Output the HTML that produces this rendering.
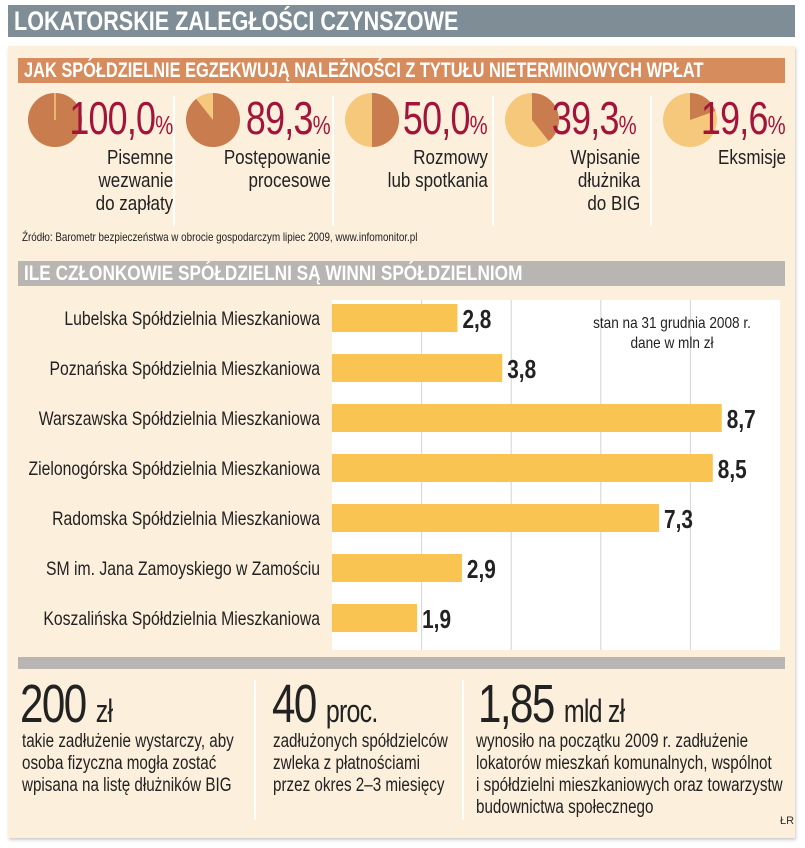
<!DOCTYPE html>
<html><head><meta charset="utf-8">
<style>
body{margin:0;width:805px;height:848px;background:#fff;font-family:"Liberation Sans",sans-serif;position:relative;overflow:hidden}
.abs{position:absolute}
.cl{display:inline-block;transform-origin:left center;white-space:nowrap}
.cr{display:inline-block;transform-origin:right center;white-space:nowrap}
#title{left:8px;top:5px;width:787px;height:32px;background:#7f8d96;color:#fff;font-weight:bold;font-size:27px;line-height:32px;padding-left:6px;box-sizing:border-box;overflow:hidden}
#panel{left:8px;top:46px;width:787px;height:792px;background:#fcefdc;box-shadow:1px 2px 3px #ccc}
#sub1,#sub2{left:18px;width:767px;height:25px;color:#fff;font-weight:bold;font-size:21px;line-height:25px;padding-left:6px;box-sizing:border-box;overflow:hidden}
#sub1{top:58px;background:#d78c5d}
#sub2{top:261px;background:#b8b5b2}
.pct{color:#a3143a;font-size:46px;line-height:44px;text-align:right;letter-spacing:-1px}
.pct small{font-size:26px;letter-spacing:0}
.lab{font-size:20px;line-height:23px;text-align:right;color:#222}
.sep{width:2px;background:#fff}
.big{font-size:54px;line-height:48px;color:#222;letter-spacing:-2px}
.big small{font-size:32px;letter-spacing:-1px}
.txt{font-size:19px;line-height:22px;color:#222}
</style></head><body>
<div id="title" class="abs"><span class="cl" style="transform:scaleX(0.8)">LOKATORSKIE ZALEGŁOŚCI CZYNSZOWE</span></div>
<div id="panel" class="abs"></div>
<div id="sub1" class="abs"><span class="cl" style="transform:scaleX(0.78)">JAK SPÓŁDZIELNIE EGZEKWUJĄ NALEŻNOŚCI Z TYTUŁU NIETERMINOWYCH WPŁAT</span></div>
<div id="pies"></div>
<div class="abs" style="left:22px;top:230px;font-size:12px;color:#222"><span class="cl" style="transform:scaleX(0.82)">Źródło: Barometr bezpieczeństwa w obrocie gospodarczym lipiec 2009, www.infomonitor.pl</span></div>
<div id="sub2" class="abs"><span class="cl" style="transform:scaleX(0.82)">ILE CZŁONKOWIE SPÓŁDZIELNI SĄ WINNI SPÓŁDZIELNIOM</span></div>
<svg id="chart" class="abs" style="left:0;top:290px" width="805" height="360"></svg>
<div class="abs" style="left:18px;top:657px;width:767px;height:12px;background:#b8b5b2"></div>
<div class="abs sep" style="left:254px;top:680px;height:140px"></div>
<div class="abs sep" style="left:462px;top:680px;height:140px"></div>
<div class="abs big" style="left:20px;top:680px"><span class="cl" style="transform:scaleX(0.78)">200 <small>zł</small></span></div>
<div class="abs txt" style="left:22px;top:731px"><span class="cl" style="transform:scaleX(0.8)">takie zadłużenie wystarczy, aby<br>osoba fizyczna mogła zostać<br>wpisana na listę dłużników BIG</span></div>
<div class="abs big" style="left:272px;top:680px"><span class="cl" style="transform:scaleX(0.78)">40 <small>proc.</small></span></div>
<div class="abs txt" style="left:273px;top:731px"><span class="cl" style="transform:scaleX(0.8)">zadłużonych spółdzielców<br>zwleka z płatnościami<br>przez okres 2–3 miesięcy</span></div>
<div class="abs big" style="left:478px;top:680px"><span class="cl" style="transform:scaleX(0.78)">1,85 <small>mld zł</small></span></div>
<div class="abs txt" style="left:476px;top:731px"><span class="cl" style="transform:scaleX(0.8)">wynosiło na początku 2009 r. zadłużenie<br>lokatorów mieszkań komunalnych, wspólnot<br>i spółdzielni mieszkaniowych oraz towarzystw<br>budownictwa społecznego</span></div>
<div class="abs" style="left:780px;top:815px;font-size:11px;color:#333">ŁR</div>
<script>
const pieValues=[100.0,89.3,50.0,39.3,19.6];
const pieLabels=["Pisemne<br>wezwanie<br>do zapłaty","Postępowanie<br>procesowe","Rozmowy<br>lub spotkania","Wpisanie<br>dłużnika<br>do BIG","Eksmisje"];
const categories=["Lubelska Spółdzielnia Mieszkaniowa","Poznańska Spółdzielnia Mieszkaniowa","Warszawska Spółdzielnia Mieszkaniowa","Zielonogórska Spółdzielnia Mieszkaniowa","Radomska Spółdzielnia Mieszkaniowa","SM im. Jana Zamoyskiego w Zamościu","Koszalińska Spółdzielnia Mieszkaniowa"];
const values=[2.8,3.8,8.7,8.5,7.3,2.9,1.9];
const gridTicks=[0,2,4,6,8,10];

const pies=document.getElementById('pies');
const colX=[20,178,337,497,655];
const colR=[173,331,488,640,786];
const pctR=[173,331,488,637,786];
pieValues.forEach((v,i)=>{
  const x0=colX[i];
  const cx=x0+35,cy=120,r=27;
  const a=v/100*2*Math.PI;
  let svg='<svg class="abs" style="left:'+(cx-r-1)+'px;top:'+(cy-r-1)+'px" width="'+(2*r+2)+'" height="'+(2*r+2)+'">';
  const c=r+1;
  svg+='<circle cx="'+c+'" cy="'+c+'" r="'+r+'" fill="#f6c87c"/>';
  if(v>=99.99){svg+='<circle cx="'+c+'" cy="'+c+'" r="'+r+'" fill="#c97c4e"/><line x1="'+c+'" y1="'+(c-r)+'" x2="'+c+'" y2="'+c+'" stroke="#f6c87c" stroke-width="1.5"/>';}
  else{const ex=c+r*Math.sin(a),ey=c-r*Math.cos(a);const large=v>50?1:0;
    svg+='<path d="M'+c+','+c+' L'+c+','+(c-r)+' A'+r+','+r+' 0 '+large+' 1 '+ex+','+ey+' Z" fill="#c97c4e"/>';}
  svg+='</svg>';
  const w=document.createElement('div');w.innerHTML=svg;const s=w.firstChild;
  
  
  pies.appendChild(s);
  const p=document.createElement('div');p.className='abs pct';
  p.style.left=(pctR[i]-140)+'px';p.style.top='96px';p.style.width='140px';
  p.innerHTML='<span class="cr" style="transform:scaleX(0.78)">'+v.toFixed(1).replace('.',',')+'<small>%</small></span>';
  
  
  pies.appendChild(p);
  const l=document.createElement('div');l.className='abs lab';
  l.style.left=(colR[i]-150)+'px';l.style.top='147px';l.style.width='150px';
  l.innerHTML='<span class="cr" style="transform:scaleX(0.85)">'+pieLabels[i]+'</span>';
  
  
  pies.appendChild(l);
  if(i>0){const sp=document.createElement('div');sp.className='abs sep';sp.style.left=(x0-5)+'px';sp.style.top='96px';sp.style.height='130px';
    
    
    pies.appendChild(sp);}
});

const NS='http://www.w3.org/2000/svg';
const svg=document.getElementById('chart');
const x0=332,pxPer=44.8,top0=10,bandH=50;
const xs=v=>x0+v*pxPer;
const ys=i=>top0+i*bandH;
function el(t,a){const e=document.createElementNS(NS,t);for(const k in a)e.setAttribute(k,a[k]);svg.appendChild(e);return e;}
const bg=el('rect',{x:xs(0),y:top0,width:xs(10)-xs(0),height:bandH*7,fill:'#fff'});


gridTicks.slice(1,-1).forEach(t=>{const g=el('line',{x1:xs(t),x2:xs(t),y1:top0,y2:top0+bandH*7,stroke:'#d6d3cf','stroke-width':1});
  
  });
categories.forEach((c,i)=>{
  const cy=ys(i)+bandH/2-7;
  const b=el('rect',{x:xs(0),y:cy-14,width:xs(values[i])-xs(0),height:28,fill:'#f9c452'});
  
  
  const t=el('text',{x:0,y:0,transform:'translate(320,'+(cy+7)+') scale(0.83,1)','text-anchor':'end','font-size':19,fill:'#222'});t.textContent=c;
  
  
  const v=el('text',{x:0,y:0,transform:'translate('+(xs(values[i])+5)+','+(cy+10)+') scale(0.8,1)','font-size':26,'font-weight':'bold',fill:'#222'});v.textContent=values[i].toFixed(1).replace('.',',');
  
  
});
const n1=el('text',{x:0,y:0,transform:'translate(672,38) scale(0.85,1)','text-anchor':'middle','font-size':16,fill:'#222'});n1.textContent='stan na 31 grudnia 2008 r.';


const n2=el('text',{x:0,y:0,transform:'translate(672,58) scale(0.85,1)','text-anchor':'middle','font-size':16,fill:'#222'});n2.textContent='dane w mln zł';


</script>
</body></html>
